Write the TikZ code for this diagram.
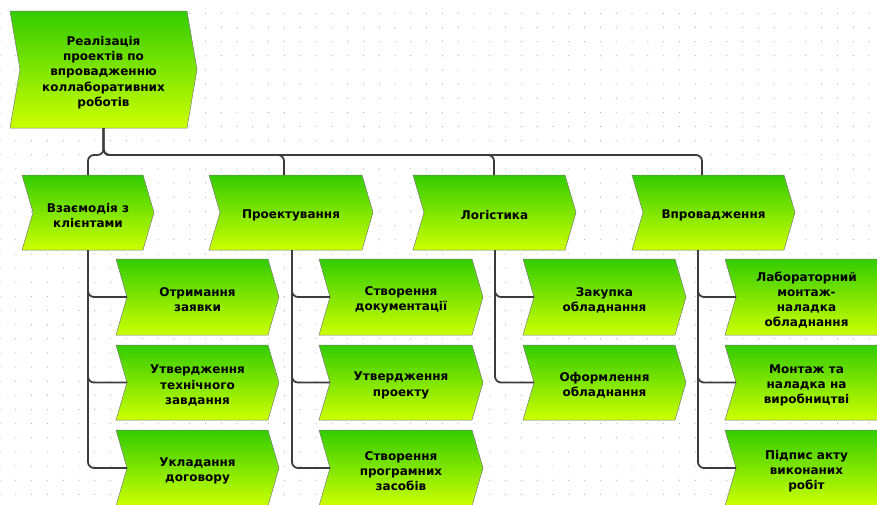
\documentclass[tikz,border=0pt]{standalone}
\usepackage{fontspec}
\setmainfont{DejaVu Sans}
\usetikzlibrary{calc}
\definecolor{gtop}{HTML}{33CC00}
\definecolor{gbot}{HTML}{CCFF00}
\definecolor{edgec}{HTML}{7A7A7A}
\definecolor{connc}{HTML}{3C3C3C}
\definecolor{dotc}{HTML}{A8A8D0}
% name, x1, y1, x2, y2, depth, text
\newcommand\chev[7]{%
  \shade[chevbox] (#2,#3) -- ({#4-#6},#3) -- (#4,{(#3+#5)/2}) -- ({#4-#6},#5) -- (#2,#5) -- ({#2+#6},{(#3+#5)/2}) -- cycle;
  \node[frame, minimum width={#4-#2}, minimum height={#5-#3}] (#1) at ({(#2+#4)/2},{(#3+#5)/2}) {};%
  \node[lbl] (#1-text) at ($(#1.center)+(0,3)$) {#7};%
}
\begin{document}
\begin{tikzpicture}[x=1pt,y=-1pt,
  chevbox/.style={top color=gtop, bottom color=gbot, draw=edgec, line width=0.5pt},
  frame/.style={inner sep=0pt, outer sep=0pt},
  lbl/.style={inner sep=0pt, align=center, font=\bfseries\fontsize{12}{15.2}\selectfont},
  connector/.style={draw=connc, line width=1.8pt, rounded corners=6pt}]
\fill[white] (0,0) rectangle (877,504);
\useasboundingbox (0,0) rectangle (877,504);
\foreach \i in {0,...,55}{\foreach \j in {0,...,35}{\fill[dotc] ({\i*15.8},{13.3+\j*14.15}) circle (0.6);}}
% root
\chev{root}{10}{11}{197}{128}{10}{Реалізація\\проектів по\\впровадженню\\коллаборативних\\роботів}
% level 1
\chev{n1}{22}{175}{154}{250}{11}{Взаємодія з\\клієнтами}
\chev{n2}{209}{175}{373}{250}{11}{Проектування}
\chev{n3}{413}{175}{576}{250}{11}{Логістика}
\chev{n4}{632}{175}{795}{250}{11}{Впровадження}
% column 1
\chev{c11}{116}{259}{279}{335}{11}{Отримання\\заявки}
\chev{c12}{116}{345}{279}{420}{11}{Утвердження\\технічного\\завдання}
\chev{c13}{116}{430}{279}{506}{11}{Укладання\\договору}
% column 2
\chev{c21}{319}{259}{483}{335}{11}{Створення\\документації}
\chev{c22}{319}{345}{483}{420}{11}{Утвердження\\проекту}
\chev{c23}{319}{430}{483}{506}{11}{Створення\\програмних\\засобів}
% column 3
\chev{c31}{523}{259}{686}{335}{11}{Закупка\\обладнання}
\chev{c32}{523}{345}{686}{420}{11}{Оформлення\\обладнання}
% column 4
\chev{c41}{725}{259}{888}{335}{11}{Лабораторний\\монтаж-\\наладка\\обладнання}
\chev{c42}{725}{345}{888}{420}{11}{Монтаж та\\наладка на\\виробництві}
\chev{c43}{725}{430}{888}{506}{11}{Підпис акту\\виконаних\\робіт}
% root to level 1
\draw[connector] (root.south) -- ($(root.south)+(0,27)$) -| ($(n1.north west)+(66,0)$);
\draw[connector] (root.south) -- ($(root.south)+(0,27)$) -| ($(n2.north west)+(75,0)$);
\draw[connector] (root.south) -- ($(root.south)+(0,27)$) -| ($(n3.north west)+(81,0)$);
\draw[connector] (root.south) -- ($(root.south)+(0,27)$) -| ($(n4.north west)+(70,0)$);
% level 1 to children
\foreach \c in {c11,c12,c13}{\draw[connector] ($(n1.south west)+(66,0)$) |- ($(\c.west)+(11,0)$);}
\foreach \c in {c21,c22,c23}{\draw[connector] ($(n2.south west)+(83,0)$) |- ($(\c.west)+(11,0)$);}
\foreach \c in {c31,c32}{\draw[connector] ($(n3.south west)+(82,0)$) |- ($(\c.west)+(11,0)$);}
\foreach \c in {c41,c42,c43}{\draw[connector] ($(n4.south west)+(66,0)$) |- ($(\c.west)+(11,0)$);}
\end{tikzpicture}
\end{document}
